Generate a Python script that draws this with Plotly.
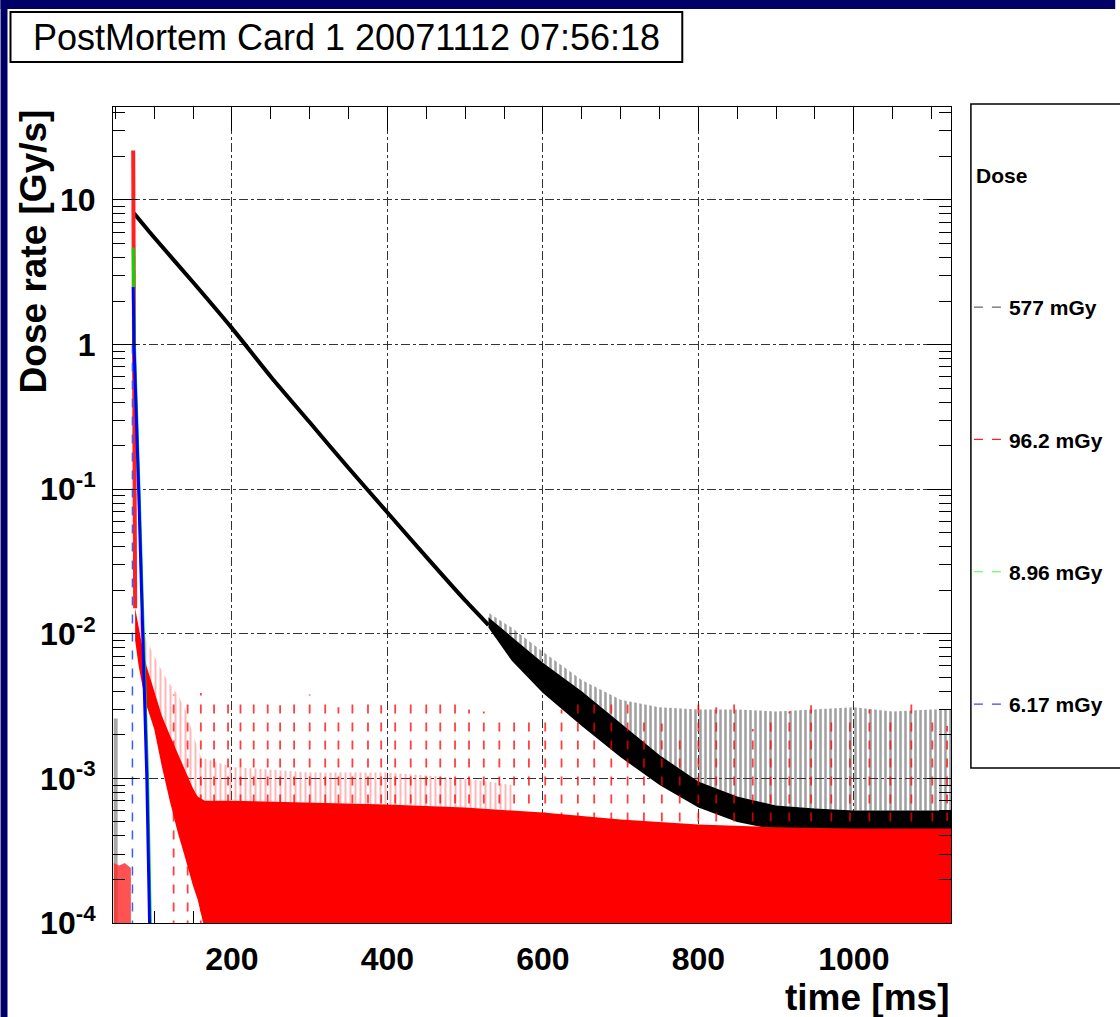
import plotly.graph_objects as go

# ---------------- data: time [ms], dose rate [Gy/s] ----------------
x_range = [47, 1125]
y_log_range = [-4, 1.643]

# 577 mGy channel (black): clean exponential decay after the dump
black_t = [74, 100, 150, 200, 250, 300, 350, 400, 450, 500, 530]
black_v = [8.1, 5.5, 2.7, 1.3, 0.6, 0.29, 0.14, 0.069, 0.034, 0.017, 0.0115]
# noisy tail of the same channel: dense band and error-bar envelope
black_band_t = [530, 560, 600, 650, 700, 750, 800, 850, 900, 950, 1000, 1050, 1100, 1125]
black_band_lo = [1.1e-2, 6.5e-3, 3.9e-3, 2.3e-3, 1.4e-3, 9.0e-4, 6.3e-4, 5.0e-4, 4.4e-4, 4.1e-4, 4.0e-4, 4.0e-4, 4.0e-4, 4.0e-4]
black_band_hi = [1.3e-2, 9.5e-3, 6.3e-3, 4.0e-3, 2.4e-3, 1.45e-3, 9.5e-4, 7.5e-4, 6.5e-4, 6.2e-4, 6.0e-4, 6.0e-4, 6.0e-4, 6.0e-4]
black_err_top = [1.4e-2, 1.1e-2, 7.5e-3, 4.8e-3, 3.5e-3, 3.1e-3, 3.0e-3, 3.0e-3, 2.9e-3, 3.0e-3, 3.1e-3, 2.9e-3, 3.0e-3, 3.0e-3]
# pre-trigger error bars of the black channel
black_pre_t = [48, 53]
black_pre_top = [2.6e-3, 2.6e-3]

# 96.2 mGy channel (red)
red_peak_t = [73, 74, 75.5]
red_peak_v = [22, 1.0, 0.015]
red_band_t = [75.5, 80, 85, 90, 100, 110, 120, 130, 140, 150, 156, 165, 200, 300, 400, 500, 600, 700, 800, 900, 1000, 1125]
red_band_hi = [1.5e-2, 1.1e-2, 8e-3, 6e-3, 4e-3, 2.7e-3, 2e-3, 1.5e-3, 1.1e-3, 8.5e-4, 7.5e-4, 7e-4,
               7e-4, 6.8e-4, 6.6e-4, 6.3e-4, 5.8e-4, 5.2e-4, 4.8e-4, 4.6e-4, 4.5e-4, 4.5e-4]
red_band_lo = [9e-3, 6e-3, 4.3e-3, 3.2e-3, 2.2e-3, 1.2e-3, 7e-4, 4.3e-4, 2.8e-4, 1.8e-4, 1.45e-4, 9e-5,
               9e-5, 9e-5, 9e-5, 9e-5, 9e-5, 9e-5, 9e-5, 9e-5, 9e-5, 9e-5]
red_err_t = [80, 90, 100, 110, 120, 130, 140, 150, 160, 200, 300, 400, 500, 560]
red_err_top = [1.5e-2, 9e-3, 7e-3, 5.5e-3, 4.5e-3, 3.8e-3, 3e-3, 2e-3, 1.4e-3, 1.2e-3, 1.1e-3, 1.1e-3, 1e-3, 9e-4]
red_err_base = [1.1e-2, 6e-3, 4e-3, 2.7e-3, 2e-3, 1.5e-3, 1.1e-3, 8.5e-4, 7e-4, 7e-4, 6.8e-4, 6.6e-4, 6.3e-4, 6e-4]
red_spike_t = [125, 143, 160, 177, 195, 211, 228, 246, 262, 280,
               300, 320, 337, 355, 375, 392, 410, 430, 450, 468,
               487, 505, 524, 544, 563, 582, 603, 624, 645, 666,
               688, 709, 730, 753, 776, 800, 823, 846, 870, 893,
               917, 945, 971, 995, 1020, 1047, 1074, 1101, 1120]
red_spike_top = [3.8e-3, 3.5e-3, 3.9e-3, 3.6e-3, 3.3e-3, 3.7e-3, 3.4e-3, 3.6e-3, 3.2e-3, 3.5e-3,
                 3.8e-3, 3.3e-3, 3.1e-3, 3.6e-3, 3.4e-3, 3.2e-3, 3.5e-3, 3.3e-3, 3.5e-3, 3.5e-3,
                 3.3e-3, 3.0e-3, 2.9e-3, 2.7e-3, 2.8e-3, 2.7e-3, 2.6e-3, 3.0e-3, 3.5e-3, 3.7e-3,
                 3.4e-3, 3.3e-3, 2.6e-3, 2.4e-3, 2.1e-3, 3.3e-3, 3.1e-3, 3.6e-3, 2.2e-3, 2.6e-3,
                 2.9e-3, 3.2e-3, 2.7e-3, 2.5e-3, 3.0e-3, 2.8e-3, 3.3e-3, 2.6e-3, 2.3e-3]
spike_base = 9e-5

# 8.96 mGy channel (green)
green_t = [73, 74.5, 80.5, 86, 91.5, 95]
green_v = [4.7, 1.0, 0.1, 0.01, 1e-3, 1e-4]

# 6.17 mGy channel (blue)
blue_t = [73, 74, 80, 85, 90.5, 94]
blue_v = [2.5, 1.0, 0.1, 0.01, 1e-3, 1e-4]
blue_err_t = 72
blue_err_v = [1.0, 9e-5]

# pre-trigger noise of the small channels near the floor
pre_t = [48, 55, 62, 70]
pre_top = [2.6e-4, 2.5e-4, 2.6e-4, 2.4e-4]

legend_names = ["577 mGy", "96.2 mGy", "8.96 mGy", "6.17 mGy"]
legend_colors = ["#666666", "#ff2020", "#40ff40", "#4040ff"]

x_tickvals = [200, 400, 600, 800, 1000]
y_tickvals = [1e-4, 1e-3, 1e-2, 1e-1, 1, 10]
y_ticktext = ["10<sup>-4</sup>", "10<sup>-3</sup>", "10<sup>-2</sup>", "10<sup>-1</sup>", "1", "10"]

# ---------------- figure ----------------
fig = go.Figure()


def band(xs, lo, hi, **fill_kw):
    """Filled region between two curves sharing the same x values."""
    fig.add_trace(go.Scatter(x=xs, y=lo, mode="lines", line=dict(width=0),
                             showlegend=False, hoverinfo="skip"))
    fig.add_trace(go.Scatter(x=xs, y=hi, mode="lines", line=dict(width=0),
                             fill="tonexty", showlegend=False, hoverinfo="skip", **fill_kw))


def vsegments(ts, bottoms, tops):
    xs, ys = [], []
    for t, b, top in zip(ts, bottoms, tops):
        xs += [t, t, None]
        ys += [b, top, None]
    return xs, ys


# black channel
band(black_pre_t, [spike_base] * len(black_pre_t), black_pre_top, fillcolor="#a8a8a8")
band(black_band_t, black_band_hi, black_err_top,
     fillcolor="rgba(0,0,0,0)",
     fillpattern=dict(shape="|", size=5, solidity=0.5, fgcolor="#404040", bgcolor="rgba(0,0,0,0)"))
band(black_band_t, black_band_lo, black_band_hi, fillcolor="black")
fig.add_trace(go.Scatter(x=black_t, y=black_v, mode="lines",
                         line=dict(color="black", width=4, shape="spline", smoothing=0.6),
                         showlegend=False))

# red channel
band(pre_t, [spike_base] * len(pre_t), pre_top, fillcolor="rgba(255,40,40,0.8)")
band(red_err_t, red_err_base, red_err_top,
     fillcolor="rgba(0,0,0,0)",
     fillpattern=dict(shape="|", size=5, solidity=0.4, fgcolor="rgba(255,60,60,0.75)", bgcolor="rgba(0,0,0,0)"))
band(red_band_t, red_band_lo, red_band_hi, fillcolor="#ff0000")
sx, sy = vsegments(red_spike_t, [spike_base] * len(red_spike_t), red_spike_top)
fig.add_trace(go.Scatter(x=sx, y=sy, mode="lines", showlegend=False, hoverinfo="skip",
                         line=dict(color="rgba(255,0,0,0.75)", width=1.8, dash="dash")))
fig.add_trace(go.Scatter(x=red_peak_t, y=red_peak_v, mode="lines", showlegend=False,
                         line=dict(color="#ff2020", width=4)))

# green and blue channels
fig.add_trace(go.Scatter(x=green_t, y=green_v, mode="lines", showlegend=False,
                         line=dict(color="#00dd00", width=3)))
fig.add_trace(go.Scatter(x=[blue_err_t, blue_err_t], y=blue_err_v, mode="lines", showlegend=False,
                         line=dict(color="#3060ff", width=1.5, dash="dash")))
fig.add_trace(go.Scatter(x=blue_t, y=blue_v, mode="lines", showlegend=False,
                         line=dict(color="#0000ff", width=3)))

# legend entries
for name, color in zip(legend_names, legend_colors):
    fig.add_trace(go.Scatter(x=[None], y=[None], mode="lines", name=name, legendgroup=name,
                             line=dict(color=color, width=1.2, dash="dash")))

# ---------------- layout ----------------
L, R, T, B = 113, 165, 107, 94
W, H = 1120, 1017
pw, ph = W - L - R, H - T - B


def px_x(p):
    return (p - L) / pw


def px_y(p):
    return (H - B - p) / ph


tick_font = dict(family="Liberation Sans", size=32, color="black", weight="bold")

fig.update_layout(
    width=W, height=H,
    margin=dict(l=L, r=R, t=T, b=B),
    paper_bgcolor="white", plot_bgcolor="white",
    showlegend=True,
    legend=dict(x=px_x(973), y=px_y(287), xanchor="left", yanchor="top",
                bgcolor="rgba(0,0,0,0)", borderwidth=0, tracegroupgap=102,
                font=dict(family="Liberation Sans", size=21, color="black", weight="bold")),
    xaxis=dict(type="linear", range=x_range, tickvals=x_tickvals, ticks="inside", ticklen=24,
               tickcolor="black", showline=True, linecolor="black", linewidth=1, mirror="allticks",
               showgrid=True, gridcolor="#333333", griddash="dashdot", gridwidth=1,
               tickfont=tick_font, ticklabelstandoff=8, zeroline=False, layer="below traces",
               minor=dict(ticks="inside", ticklen=12, dtick=50, tick0=0, tickcolor="black", showgrid=False)),
    yaxis=dict(type="log", range=y_log_range, tickvals=y_tickvals, ticktext=y_ticktext,
               ticks="inside", ticklen=24, tickcolor="black", showline=True, linecolor="black",
               linewidth=1, mirror="allticks", showgrid=True, gridcolor="#333333",
               griddash="dashdot", gridwidth=1, tickfont=tick_font, ticklabelstandoff=10,
               minor=dict(ticks="inside", ticklen=12, dtick="D1", tickcolor="black", showgrid=False)),
)

shapes = [
    # dark frame of the page
    dict(type="rect", xref="paper", yref="paper", x0=px_x(0), x1=px_x(W), y0=px_y(9), y1=px_y(0),
         fillcolor="#000066", line=dict(width=0), layer="above"),
    dict(type="rect", xref="paper", yref="paper", x0=px_x(0), x1=px_x(7), y0=px_y(H), y1=px_y(0),
         fillcolor="#000066", line=dict(width=0), layer="above"),
    # title box
    dict(type="rect", xref="paper", yref="paper", x0=px_x(10), x1=px_x(685), y0=px_y(62), y1=px_y(12),
         fillcolor="white", line=dict(color="black", width=2)),
    # legend box
    dict(type="rect", xref="paper", yref="paper", x0=px_x(975), x1=px_x(1130), y0=px_y(768), y1=px_y(104),
         fillcolor="rgba(0,0,0,0)", line=dict(color="black", width=1.5)),
]
fig.update_layout(shapes=shapes)

annotations = [
    dict(text="PostMortem Card 1 20071112 07:56:18", xref="paper", yref="paper",
         x=px_x(348), y=px_y(37), xanchor="center", yanchor="middle", showarrow=False,
         font=dict(family="Liberation Sans", size=36, color="black")),
    dict(text="Dose rate [Gy/s]", xref="paper", yref="paper", textangle=-90,
         x=px_x(33), y=px_y(251), xanchor="center", yanchor="middle", showarrow=False,
         font=dict(family="Liberation Sans", size=37, color="black", weight="bold")),
    dict(text="time [ms]", xref="paper", yref="paper",
         x=1, y=px_y(998), xanchor="right", yanchor="middle", showarrow=False,
         font=dict(family="Liberation Sans", size=37, color="black", weight="bold")),
    dict(text="Dose", xref="paper", yref="paper",
         x=px_x(978), y=px_y(175), xanchor="left", yanchor="middle", showarrow=False,
         font=dict(family="Liberation Sans", size=21, color="black", weight="bold")),
]
fig.update_layout(annotations=annotations)

fig.write_html("out.html")
